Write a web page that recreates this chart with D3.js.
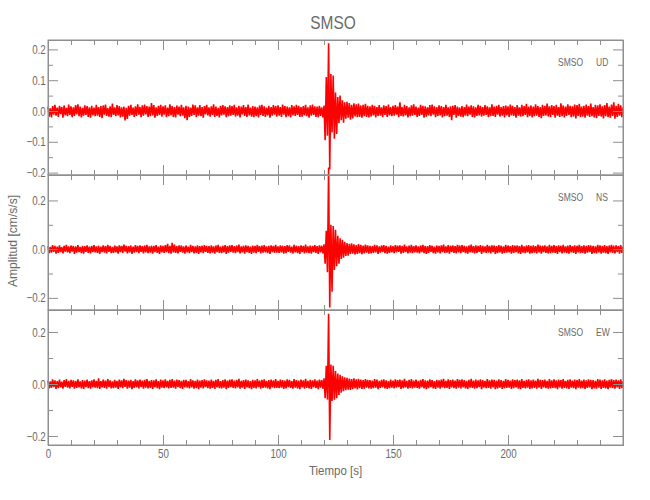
<!DOCTYPE html>
<html><head><meta charset="utf-8">
<script src="https://cdn.jsdelivr.net/npm/d3@7"></script>
<style>
body{margin:0;background:#fff;}
text{font-family:"Liberation Sans",Arial,sans-serif;fill:#6a6a6a;}
</style>
</head><body>
<svg id="chart" width="650" height="500"></svg>
<script>
// ---------- data ----------
const chartTitle = "SMSO";
const station = "SMSO";
const components = ["UD", "NS", "EW"];
const xLabel = "Tiempo [s]";
const yLabel = "Amplitud [cm/s/s]";
const sampleStep = 0.5;              // seconds between samples
const timeRange = [0, 250];
const xMajorTicks = [0, 50, 100, 150, 200];
const xMinorTicks = [10,20,30,40,60,70,80,90,110,120,130,140,160,170,180,190,210,220,230,240];
// amplitudes in 10^-3 cm/s/s, one sample every 0.5 s
const udMilli = [
14,-18,9,-21,16,-12,20,-15,11,-19,17,-10,13,-22,18,-14,10,-17,21,-13,
15,-20,12,-16,19,-11,22,-17,14,-21,10,-15,18,-13,16,-19,12,-22,17,-14,
11,-17,20,-15,13,-19,16,-23,18,-12,21,-16,9,-18,15,-20,24,-13,12,-17,
19,-14,16,-21,12,-18,14,-31,10,-26,17,-15,20,-13,11,-19,15,-16,22,-12,
13,-20,18,-15,21,-11,16,-19,14,-17,26,-14,19,-22,12,-16,17,-13,20,-18,
15,-12,18,-20,11,-17,22,-14,16,-19,13,-21,18,-12,14,-17,20,-15,12,-23,
17,-30,14,-19,11,-16,21,-13,18,-20,12,-15,19,-17,13,-22,16,-11,20,-14,
12,-18,15,-13,22,-19,14,-16,10,-21,17,-14,19,-12,15,-20,13,-17,18,-15,
16,-13,20,-18,12,-15,17,-21,14,-11,19,-16,13,-19,21,-14,11,-18,16,-20,
14,-17,12,-21,18,-13,20,-16,15,-19,11,-14,17,-22,13,-15,19,-12,16,-18,
18,-15,13,-19,21,-12,16,-20,14,-17,12,-21,19,-14,15,-16,20,-13,17,-19,
13,-18,16,-14,20,-17,12,-22,18,-15,21,-13,15,-19,14,-20,17,-16,12,-21,
18,-95,110,-80,220,-190,120,-70,115,-90,60,-75,45,-40,50,-30,35,-38,28,-25,
30,-22,26,-28,20,-24,25,-18,22,-20,24,-19,18,-22,20,-17,23,-19,17,-21,
15,-18,20,-14,17,-21,13,-16,19,-15,12,-20,18,-13,16,-19,21,-14,13,-17,
17,-15,19,-12,14,-20,28,-16,13,-18,20,-14,16,-21,12,-17,18,-15,22,-13,
14,-19,11,-16,20,-13,17,-22,15,-18,12,-14,19,-17,21,-12,15,-20,13,-16,
18,-14,16,-21,13,-17,20,-15,12,-19,15,-30,17,-13,19,-22,14,-16,11,-18,
16,-20,13,-15,21,-17,14,-12,18,-19,15,-21,12,-16,20,-14,17,-18,13,-15,
19,-13,15,-20,12,-17,22,-16,14,-19,17,-12,20,-18,13,-15,16,-21,18,-14,
15,-19,21,-14,17,-16,13,-22,19,-15,12,-18,20,-17,16,-13,23,-20,14,-16,
18,-21,14,-17,22,-15,16,-19,13,-23,20,-16,17,-14,24,-18,15,-20,19,-13,
16,-22,20,-15,13,-19,25,-17,18,-21,14,-16,22,-13,17,-20,15,-18,21,-24,
19,-16,23,-20,14,-18,17,-22,21,-15,16,-19,24,-17,13,-21,20,-23,18,-16,
22,-18,15,-24,19,-17,26,-20,14,-22,21,-16,28,-25,17,-19,23,-15,18,-20,
12];
const nsMilli = [
12,-16,9,-14,17,-11,13,-18,10,-15,16,-12,8,-17,14,-10,18,-13,11,-16,
15,-10,13,-19,11,-14,17,-12,9,-16,14,-18,12,-11,16,-15,10,-17,13,-12,
17,-13,11,-15,14,-19,10,-12,16,-14,12,-17,18,-11,13,-16,9,-15,15,-13,
11,-18,16,-12,13,-15,19,-10,14,-17,12,-13,15,-19,10,-14,17,-12,13,-16,
16,-11,12,-17,15,-13,18,-16,11,-14,14,-18,13,-12,17,-15,10,-19,16,-13,
13,-15,17,-12,22,-16,14,-18,26,-13,19,-15,12,-17,16,-11,15,-14,11,-18,
15,-13,10,-16,18,-12,13,-17,11,-15,16,-19,12,-13,14,-16,17,-11,13,-15,
12,-17,16,-14,11,-18,15,-12,18,-15,10,-16,14,-13,17,-19,12,-14,16,-11,
17,-14,12,-16,15,-12,19,-17,11,-13,14,-18,16,-12,13,-15,10,-19,15,-14,
13,-16,18,-11,12,-17,15,-14,17,-13,11,-16,14,-19,16,-12,13,-15,18,-14,
11,-15,16,-13,14,-18,12,-16,17,-11,15,-14,10,-17,18,-13,14,-16,12,-19,
16,-12,13,-17,19,-14,11,-16,15,-18,13,-12,17,-15,12,-19,16,-13,14,-17,
20,-60,75,-95,335,-240,100,-175,95,-85,80,-70,55,-60,45,-40,38,-35,30,-28,
25,-27,22,-20,24,-18,20,-22,17,-19,21,-16,18,-20,15,-17,19,-14,16,-18,
14,-17,12,-15,18,-13,16,-19,11,-14,15,-12,17,-16,13,-18,10,-15,16,-13,
12,-16,17,-13,14,-11,16,-18,13,-15,19,-12,11,-17,15,-14,18,-16,12,-13,
16,-14,11,-17,15,-12,18,-16,13,-19,12,-15,17,-11,14,-16,10,-18,15,-13,
13,-17,16,-12,19,-15,11,-14,17,-18,14,-12,16,-15,12,-17,18,-13,15,-16,
17,-12,14,-16,11,-18,15,-13,19,-14,12,-17,16,-15,13,-11,17,-19,14,-13,
11,-15,18,-14,13,-17,16,-12,15,-19,12,-16,17,-13,14,-18,11,-15,18,-14,
15,-13,12,-18,17,-15,14,-12,16,-17,13,-19,18,-14,11,-16,15,-13,17,-18,
13,-16,16,-14,12,-17,19,-13,15,-18,14,-12,16,-15,11,-17,18,-16,13,-14,
17,-15,13,-19,16,-12,14,-17,18,-14,11,-16,15,-18,17,-13,12,-15,16,-19,
14,-13,18,-16,12,-15,16,-18,13,-14,17,-12,15,-19,14,-16,11,-17,18,-13,
16,-18,13,-14,17,-16,12,-19,15,-13,18,-15,14,-17,16,-12,13,-18,17,-15,
10];
const ewMilli = [
13,-17,10,-15,18,-12,14,-19,11,-16,17,-13,9,-18,15,-11,19,-14,12,-17,
16,-11,14,-18,12,-15,18,-13,10,-17,15,-19,13,-12,17,-16,11,-18,14,-13,
18,-14,12,-16,22,-19,11,-13,17,-15,13,-18,19,-12,14,-17,10,-16,16,-14,
12,-19,17,-13,14,-16,20,-11,15,-18,13,-14,16,-20,11,-15,18,-13,14,-17,
17,-12,13,-18,16,-14,19,-17,12,-15,15,-19,14,-13,18,-16,11,-20,17,-14,
14,-16,18,-13,12,-17,16,-15,19,-14,13,-18,17,-12,15,-16,12,-19,16,-13,
16,-14,11,-17,19,-13,14,-18,12,-16,17,-20,13,-14,15,-17,18,-12,14,-16,
13,-18,17,-15,12,-19,16,-13,19,-16,11,-17,15,-14,18,-20,13,-15,17,-12,
18,-15,13,-17,16,-13,20,-18,12,-14,15,-19,17,-13,14,-16,11,-20,16,-15,
14,-17,19,-12,13,-18,16,-15,18,-14,12,-17,15,-20,17,-13,14,-16,19,-15,
12,-16,17,-14,15,-19,13,-17,18,-12,16,-15,11,-18,19,-14,15,-17,13,-20,
17,-13,14,-18,20,-15,12,-17,16,-19,14,-13,18,-16,13,-20,17,-14,15,-18,
22,-55,70,-60,270,-215,75,-65,70,-60,50,-55,40,-42,35,-33,30,-28,26,-24,
24,-22,21,-23,19,-20,22,-17,18,-21,20,-16,17,-19,15,-18,19,-14,16,-17,
15,-18,13,-16,19,-14,17,-20,12,-15,16,-13,18,-17,14,-19,11,-16,17,-14,
13,-17,18,-14,15,-12,17,-19,14,-16,20,-13,12,-18,16,-15,19,-17,13,-14,
17,-15,12,-18,16,-13,19,-17,14,-20,13,-16,18,-12,15,-17,11,-19,16,-14,
14,-18,17,-13,20,-16,12,-15,18,-19,15,-13,17,-16,13,-18,19,-14,16,-17,
18,-13,15,-17,12,-19,16,-14,20,-15,13,-18,17,-16,14,-12,18,-20,15,-14,
12,-16,19,-15,14,-18,17,-13,16,-20,13,-17,18,-14,15,-19,12,-16,19,-15,
16,-14,13,-19,18,-16,15,-13,17,-18,14,-20,19,-15,12,-17,16,-14,18,-19,
14,-17,17,-15,13,-18,20,-14,16,-19,15,-13,17,-16,12,-18,19,-17,14,-15,
18,-16,14,-20,17,-13,15,-18,19,-15,12,-17,16,-19,18,-14,13,-16,17,-20,
15,-14,19,-17,13,-16,17,-19,14,-15,18,-13,16,-20,15,-17,12,-18,19,-14,
17,-19,14,-15,18,-17,13,-20,16,-14,19,-16,15,-18,17,-13,14,-19,18,-16,
11];
const seriesMilli = [udMilli, nsMilli, ewMilli];
const yRanges = [[-0.2078, 0.2305], [-0.2498, 0.3045], [-0.2346, 0.2846]];
const yMajorTicks = [[-0.2, -0.1, 0.0, 0.1, 0.2], [-0.2, 0.0, 0.2], [-0.2, 0.0, 0.2]];
const yMinorTicks = [[-0.15, -0.05, 0.05, 0.15], [-0.1, 0.1], [-0.1, 0.1]];

// ---------- layout ----------
const left = 48, right = 623;
const panelTops = [40, 175, 310];
const panelH = 135;
const axisColor = "#8f8f8f";
const textColor = "#6a6a6a";
const traceColor = "#ff0000";

const svg = d3.select("#chart");
const x = d3.scaleLinear().domain(timeRange).range([left, right]);
const fmtY = v => (v < 0 ? "\u2212" : "") + Math.abs(v).toFixed(1);

const traces = svg.append("g");
const axesG = svg.append("g");

function narrowText(parent, px, py, str, size, sx, anchor, rot) {
  const g = parent.append("g").attr("transform", `translate(${px},${py})` + (rot ? ` rotate(${rot})` : ""));
  return g.append("text").attr("transform", `scale(${sx},1)`)
    .attr("text-anchor", anchor).attr("font-size", size).attr("fill", textColor).text(str);
}

components.forEach((comp, i) => {
  const top = panelTops[i], bottom = top + panelH;
  const y = d3.scaleLinear().domain(yRanges[i]).range([bottom, top]);
  const pts = seriesMilli[i].map((v, k) => ({t: k * sampleStep, v: v / 1000}));
  const line = d3.line().x(d => x(d.t)).y(d => y(d.v));
  traces.append("path").datum(pts)
    .attr("d", line).attr("fill", "none")
    .attr("stroke", traceColor).attr("stroke-width", 1.6)
    .attr("stroke-linejoin", "miter").attr("stroke-miterlimit", 1);

  const g = axesG.append("g");
  g.append("g").attr("transform", `translate(${left},0)`)
    .call(d3.axisLeft(y).tickValues(yMajorTicks[i]).tickSize(-10).tickPadding(3).tickFormat(fmtY));
  g.append("g").attr("transform", `translate(${left},0)`)
    .call(d3.axisLeft(y).tickValues(yMinorTicks[i]).tickSize(-5).tickFormat(""));
  g.append("g").attr("transform", `translate(${right},0)`)
    .call(d3.axisRight(y).tickValues(yMajorTicks[i]).tickSize(-10).tickFormat(""));
  g.append("g").attr("transform", `translate(${right},0)`)
    .call(d3.axisRight(y).tickValues(yMinorTicks[i]).tickSize(-5).tickFormat(""));
  g.append("g").attr("transform", `translate(0,${top})`)
    .call(d3.axisTop(x).tickValues(xMajorTicks).tickSize(-10).tickFormat(""));
  g.append("g").attr("transform", `translate(0,${top})`)
    .call(d3.axisTop(x).tickValues(xMinorTicks).tickSize(-5).tickFormat(""));
  g.append("g").attr("transform", `translate(0,${bottom})`)
    .call(d3.axisBottom(x).tickValues(xMajorTicks).tickSize(-10).tickPadding(4)
      .tickFormat(i === components.length - 1 ? d3.format("d") : ""));
  g.append("g").attr("transform", `translate(0,${bottom})`)
    .call(d3.axisBottom(x).tickValues(xMinorTicks).tickSize(-5).tickFormat(""));
  g.append("rect").attr("x", left).attr("y", top).attr("width", right - left).attr("height", panelH)
    .attr("fill", "none").attr("stroke", axisColor).attr("stroke-width", 1);

  narrowText(g, 583, top + 26, station, 10, 0.85, "end");
  narrowText(g, 596, top + 26, comp, 10, 0.85, "start");
});

axesG.selectAll(".domain").attr("stroke", axisColor);
axesG.selectAll(".tick line").attr("stroke", axisColor);
axesG.selectAll(".tick text").attr("font-size", 12.5).attr("fill", textColor)
  .attr("font-family", null).attr("transform", "scale(0.78,1)");

narrowText(svg, 333, 29, chartTitle, 18, 0.86, "middle");
narrowText(svg, (left + right) / 2, 475, xLabel, 12.5, 0.92, "middle");
narrowText(svg, 17, 241, yLabel, 12.5, 0.97, "middle", -90);
</script>
</body></html>
